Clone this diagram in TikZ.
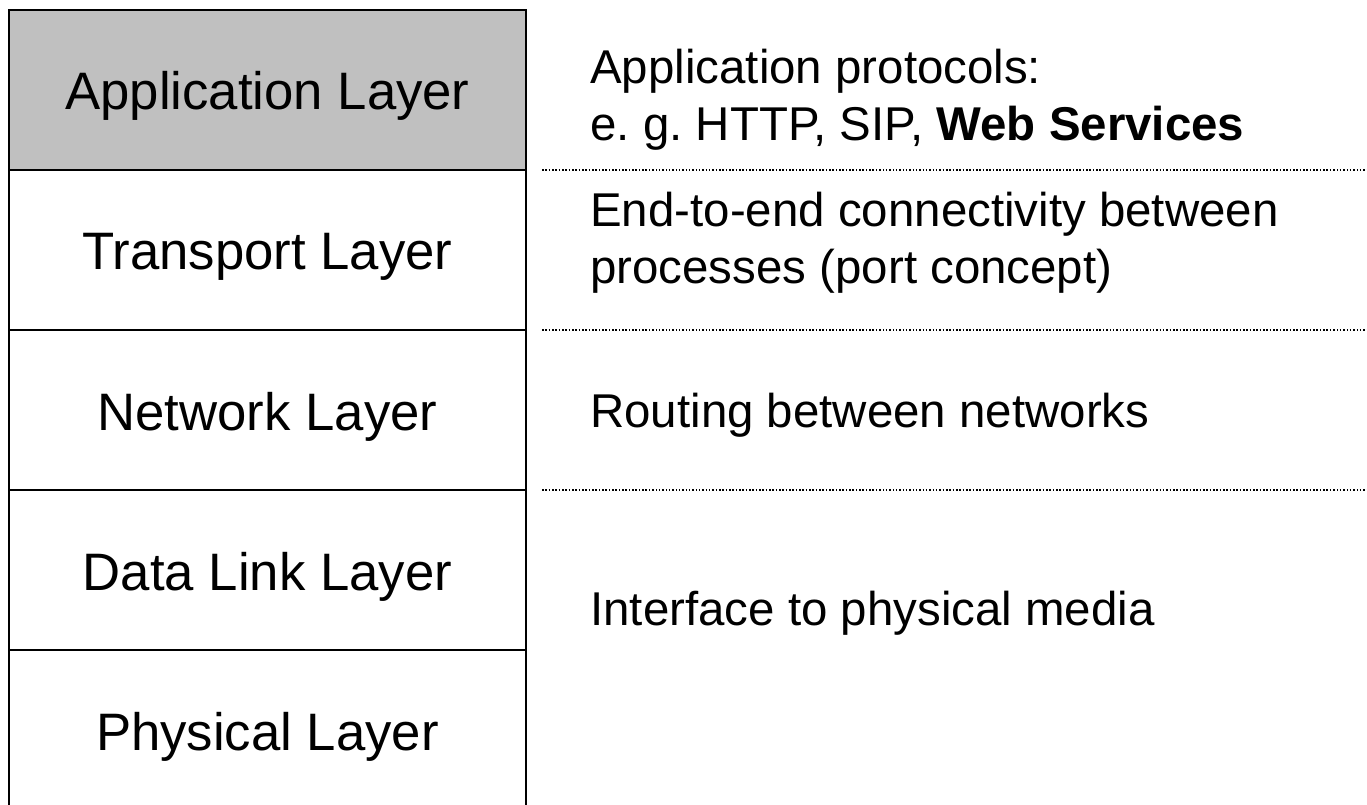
\documentclass[tikz,border=0pt]{standalone}
\usepackage{xcolor}
\usepackage{fontspec}
\setmainfont{Liberation Sans}
\frenchspacing
\usepackage{tikz}
\definecolor{appgray}{RGB}{192,192,192}

\begin{document}
\begin{tikzpicture}[x=0.02cm,y=-0.02cm]
            \tikzset{Layer/.style={%
                    shape=rectangle,%
                    draw=black,%
                    line width=1.6pt,%
                    minimum width=10.34cm,%
                    minimum height=3.2cm,%
                    inner sep=0pt,%
                    text height=0.8cm,%
                    text depth=0pt,%
                    font=\fontsize{30}{36}\selectfont,%
                },
                Desc/.style={%
                    anchor=base west,%
                    align=left,%
                    inner sep=0pt,%
                    font=\fontsize{27}{32.4}\selectfont,%
                },
                Sep/.style={%
                    line width=0.9pt,%
                    dash pattern=on 0.9pt off 1pt,%
                }}
                \useasboundingbox (0,0) rectangle (1367,805);

                \node[Layer,fill=appgray] (app) at (267.5,90) {Application Layer};
                \node[Layer] (trans) at (267.5,250) {Transport Layer};
                \node[Layer] (net) at (267.5,410) {Network Layer};
                \node[Layer] (link) at (267.5,570) {Data Link Layer};
                \node[Layer] (phys) at (267.5,730) {Physical Layer};

                % base anchor = baseline of the last line
                \node[Desc] (appd) at (590,140) {Application protocols:\\e. g. HTTP, SIP, \textbf{Web Services}};
                \node[Desc] (transd) at (590,283) {End-to-end connectivity between\\processes (port concept)};
                \node[Desc] (netd) at (590,427) {Routing between networks};
                \node[Desc] (linkd) at (590,625) {Interface to physical media};

                \coordinate (s1) at (542,170);
                \coordinate (e1) at (1367,170);
                \coordinate (s2) at (542,330);
                \coordinate (e2) at (1367,330);
                \coordinate (s3) at (542,490);
                \coordinate (e3) at (1367,490);

                \path (s1) edge[Sep] (e1);
                \path (s2) edge[Sep] (e2);
                \path (s3) edge[Sep] (e3);
        \end{tikzpicture}
\end{document}
